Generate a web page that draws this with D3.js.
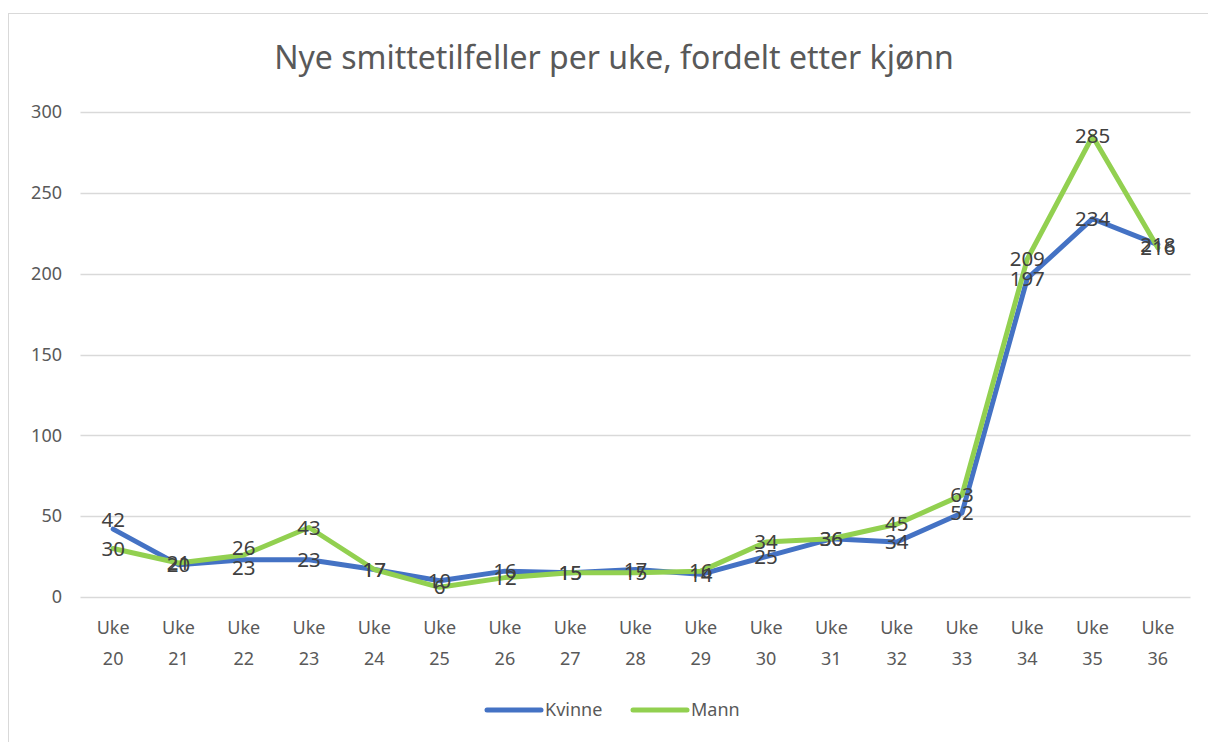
<!DOCTYPE html>
<html>
<head>
<meta charset="utf-8">
<script src="https://cdn.jsdelivr.net/npm/d3@7"></script>
<style>
  body { margin: 0; background: #fff; }
  svg { display: block; font-family: "Noto Sans", "Open Sans", sans-serif; }
</style>
</head>
<body>
<svg id="chart" width="1208" height="742"></svg>
<script>
// data
var weeks = ["20", "21", "22", "23", "24", "25", "26", "27", "28", "29", "30", "31", "32", "33", "34", "35", "36"];
var kvinne = [42, 20, 23, 23, 17, 10, 16, 15, 17, 14, 25, 36, 34, 52, 197, 234, 218];
var mann = [30, 21, 26, 43, 17, 6, 12, 15, 15, 16, 34, 36, 45, 63, 209, 285, 216];
var yTicks = [0, 50, 100, 150, 200, 250, 300];
var seriesNames = ["Kvinne", "Mann"];
var seriesColors = ["#4472C4", "#92D050"];

var svg = d3.select("#chart");
var textColor = "#595959";

// outer frame
svg.append("rect")
    .attr("x", 8.5).attr("y", 13.5)
    .attr("width", 1210).attr("height", 740)
    .attr("fill", "none").attr("stroke", "#d9d9d9");

svg.append("text")
    .attr("x", 614).attr("y", 69)
    .attr("text-anchor", "middle")
    .attr("font-size", 32)
    .attr("fill", textColor)
    .text("Nye smittetilfeller per uke, fordelt etter kjønn");

var x = d3.scaleBand().domain(weeks).range([80.5, 1190.5]);
var y = d3.scaleLinear().domain([0, 300]).range([597, 112]);

// gridlines
svg.append("g").selectAll("line")
    .data(yTicks)
    .enter().append("line")
    .attr("x1", 80.5).attr("x2", 1190.5)
    .attr("y1", function (d) { return Math.round(y(d)) + 0.5; })
    .attr("y2", function (d) { return Math.round(y(d)) + 0.5; })
    .attr("stroke", "#d9d9d9").attr("stroke-width", 1.3);

// y labels
svg.append("g").selectAll("text")
    .data(yTicks)
    .enter().append("text")
    .attr("x", 62).attr("y", function (d) { return y(d); })
    .attr("dy", "0.35em")
    .attr("text-anchor", "end")
    .attr("font-size", 18)
    .attr("fill", textColor)
    .text(function (d) { return d; });

// x labels
var xl = svg.append("g").selectAll("text")
    .data(weeks)
    .enter().append("text")
    .attr("text-anchor", "middle")
    .attr("font-size", 18)
    .attr("fill", textColor);
xl.append("tspan")
    .attr("x", function (d) { return x(d) + x.bandwidth() / 2; })
    .attr("y", 634)
    .text("Uke");
xl.append("tspan")
    .attr("x", function (d) { return x(d) + x.bandwidth() / 2; })
    .attr("y", 665)
    .text(function (d) { return d; });

var line = d3.line()
    .x(function (d, i) { return x(weeks[i]) + x.bandwidth() / 2; })
    .y(function (d) { return y(d); });

var allSeries = [kvinne, mann];
allSeries.forEach(function (s, k) {
    svg.append("path")
        .datum(s)
        .attr("d", line)
        .attr("fill", "none")
        .attr("stroke", seriesColors[k])
        .attr("stroke-width", 5)
        .attr("stroke-linejoin", "round")
        .attr("stroke-linecap", "round");
});

// data labels, centred on the points (a few nudged like excel does)
var nudge = { "0-0": -9, "0-2": 8, "1-2": -7 };
allSeries.forEach(function (s, k) {
    svg.append("g").selectAll("text")
        .data(s)
        .enter().append("text")
        .attr("x", function (d, i) { return x(weeks[i]) + x.bandwidth() / 2; })
        .attr("y", function (d, i) { return y(d) + (nudge[k + "-" + i] || 0); })
        .attr("dy", "0.35em")
        .attr("text-anchor", "middle")
        .attr("font-size", 20.5)
        .attr("fill", "#404040")
        .text(function (d) { return d; });
});

// legend
var legendX = [487, 633];
seriesNames.forEach(function (name, k) {
    svg.append("line")
        .attr("x1", legendX[k]).attr("x2", legendX[k] + 54)
        .attr("y1", 710).attr("y2", 710)
        .attr("stroke", seriesColors[k])
        .attr("stroke-width", 5)
        .attr("stroke-linecap", "round");
    svg.append("text")
        .attr("x", legendX[k] + 58).attr("y", 710)
        .attr("dy", "0.35em")
        .attr("font-size", 18)
        .attr("fill", textColor)
        .text(name);
});
</script>
</body>
</html>
